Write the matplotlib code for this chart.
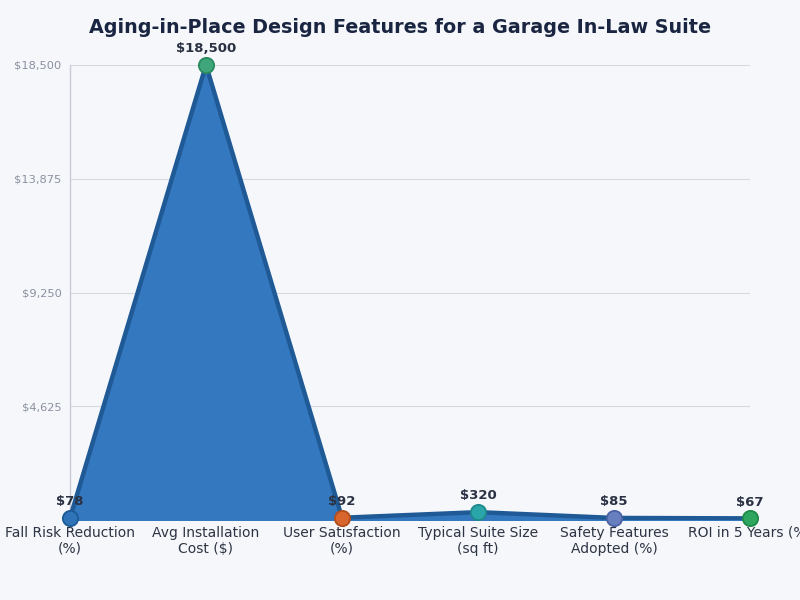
import matplotlib
matplotlib.use("Agg")
import matplotlib.pyplot as plt
import numpy as np
from matplotlib.ticker import FuncFormatter

categories = ["Fall Risk Reduction\n(%)", "Avg Installation\nCost ($)", "User Satisfaction\n(%)",
              "Typical Suite Size\n(sq ft)", "Safety Features\nAdopted (%)", "ROI in 5 Years (%)"]
values = [78, 18500, 92, 320, 85, 67]
marker_colors = ["#2f74b8", "#3ea67a", "#d8652e", "#2aa6aa", "#687fbf", "#2fa660"]
marker_edges = ["#1d5a96", "#2a8a60", "#b04e1e", "#1e8a8c", "#4a62a4", "#1f8a48"]
yticks = [4625, 9250, 13875, 18500]

bg = "#f5f7fb"
fig = plt.figure(figsize=(8, 6), dpi=100, facecolor=bg)
ax = fig.add_axes([0.0875, 0.1333, 0.85, 0.7584], facecolor=bg)

x = np.arange(len(values))
ax.fill_between(x, 0, values, color="#3478bf", zorder=2)
ax.plot(x, values, color="#1f5a96", linewidth=3.2, zorder=3, solid_joinstyle="round")
for xi, v, c, ec in zip(x, values, marker_colors, marker_edges):
    ax.plot(xi, v, "o", markersize=11, markerfacecolor=c, markeredgecolor=ec,
            markeredgewidth=1.3, zorder=5, clip_on=False)
    ax.annotate(f"${v:,.0f}", (xi, v), xytext=(0, 7), textcoords="offset points",
                ha="center", va="bottom", fontsize=9.5, fontweight="bold", color="#2a3142", zorder=6)

ax.set_xlim(0, len(values) - 1)
ax.set_ylim(0, 18500)
ax.set_xticks(x)
ax.set_xticklabels(categories, fontsize=10, color="#2d3443")
ax.set_yticks(yticks)
ax.yaxis.set_major_formatter(FuncFormatter(lambda v, p: f"${v:,.0f}"))
ax.tick_params(axis="y", labelsize=8.2, labelcolor="#8a90a0", length=0, pad=6)
ax.tick_params(axis="x", length=0, pad=4)
ax.grid(axis="y", color="#d5d9e0", linewidth=0.8, zorder=0)
ax.set_axisbelow(True)
for s in ["top", "right", "bottom"]:
    ax.spines[s].set_visible(False)
ax.spines["left"].set_color("#c8ccd4")
ax.spines["left"].set_linewidth(1.0)

fig.suptitle("Aging-in-Place Design Features for a Garage In-Law Suite", y=0.97,
             fontsize=13.8, fontweight="bold", color="#1a2541")

fig.savefig("out.png", dpi=100, facecolor=bg)
